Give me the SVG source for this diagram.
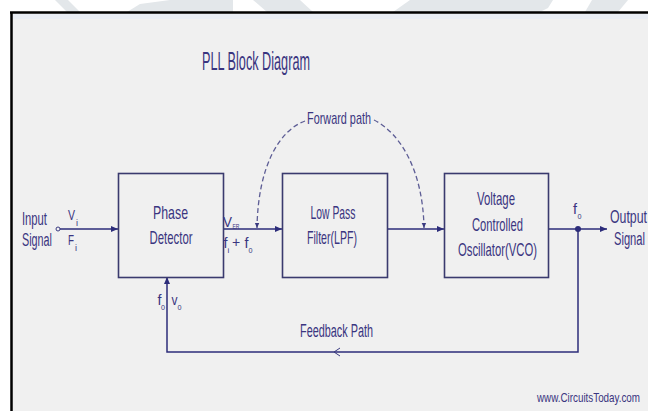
<svg xmlns="http://www.w3.org/2000/svg" width="648" height="411" viewBox="0 0 648 411">
<style>
.t{font-family:"Liberation Sans",Arial,sans-serif;fill:#3a3580;}
.box{fill:none;stroke:#3a3a6e;stroke-width:1.6;}
.ln{fill:none;stroke:#2c2c7a;stroke-width:1.5;}
.dash{fill:none;stroke:#5d5d95;stroke-width:1.3;stroke-dasharray:5 3;}
.wm{fill:#e3e7ea;}
</style>
<defs>
<marker id="arr" markerWidth="8" markerHeight="8" refX="7" refY="4" orient="auto" markerUnits="userSpaceOnUse">
<path d="M0,1 L7,4 L0,7 Z" fill="#2c2c7a"/>
</marker>
<marker id="arrs" markerWidth="6" markerHeight="6" refX="5" refY="3" orient="auto" markerUnits="userSpaceOnUse">
<path d="M0,0.8 L5,3 L0,5.2 Z" fill="#3a3a80"/>
</marker>
</defs>
<rect x="0" y="0" width="648" height="411" fill="#ffffff"/>
<g id="watermark">
<polygon class="wm" points="55,0 68,0 80,12 67,12"/>
<polygon class="wm" points="127,12 140,4 170,0 233,0 233,12"/>
<polygon class="wm" points="253,0 300,0 313,12 267,12"/>
<polygon class="wm" points="393,12 410,0 553,0 548,8 540,12"/>
<polygon class="wm" points="592,0 628,0 618,12 585,12"/>
</g>
<g id="frame">
<rect x="12" y="13" width="636" height="398" fill="#f0f0f0"/>
<rect x="13" y="14" width="635" height="5" fill="#e9edf4"/>
<line x1="10" y1="12.5" x2="648" y2="12.5" stroke="#000" stroke-width="2.5"/>
<line x1="11.5" y1="12" x2="11.5" y2="411" stroke="#000" stroke-width="2.5"/>
</g>
<text class="t" x="202" y="70" font-size="25" textLength="108" lengthAdjust="spacingAndGlyphs">PLL Block Diagram</text>

<g id="connectors">
<circle cx="58" cy="229" r="2" fill="none" stroke="#3a3a80" stroke-width="1"/>
<line class="ln" x1="60" y1="229" x2="118" y2="229" marker-end="url(#arr)"/>
<line class="ln" x1="223" y1="229" x2="282" y2="229" marker-end="url(#arr)"/>
<line class="ln" x1="387" y1="229" x2="444" y2="229" marker-end="url(#arr)"/>
<line class="ln" x1="548" y1="229" x2="607" y2="229" marker-end="url(#arr)"/>
<circle cx="578" cy="229" r="3" fill="#2c2c7a"/>
<polyline class="ln" points="578,229 578,352 167,352 167,277" marker-end="url(#arr)"/>
<path d="M340,348 L334,352 L340,356" fill="none" stroke="#3a3a80" stroke-width="1"/>
<path class="dash" d="M305,121 C280,130 258,165 257,228" marker-end="url(#arrs)"/>
<path class="dash" d="M374,120 C400,133 423,170 424,228" marker-end="url(#arrs)"/>
</g>

<g id="phase-detector">
<rect class="box" x="118.5" y="173.5" width="105" height="104"/>
<text class="t" x="170.5" y="219" font-size="19" text-anchor="middle" textLength="35" lengthAdjust="spacingAndGlyphs">Phase</text>
<text class="t" x="171" y="244" font-size="19" text-anchor="middle" textLength="43" lengthAdjust="spacingAndGlyphs">Detector</text>
</g>
<g id="lpf">
<rect class="box" x="282.5" y="173.5" width="105" height="104"/>
<text class="t" x="333" y="219" font-size="19" text-anchor="middle" textLength="45" lengthAdjust="spacingAndGlyphs">Low Pass</text>
<text class="t" x="332" y="244" font-size="19" text-anchor="middle" textLength="50" lengthAdjust="spacingAndGlyphs">Filter(LPF)</text>
</g>
<g id="vco">
<rect class="box" x="444.5" y="173.5" width="104" height="104"/>
<text class="t" x="496" y="205" font-size="19" text-anchor="middle" textLength="38" lengthAdjust="spacingAndGlyphs">Voltage</text>
<text class="t" x="497.5" y="231" font-size="19" text-anchor="middle" textLength="51" lengthAdjust="spacingAndGlyphs">Controlled</text>
<text class="t" x="497.5" y="256" font-size="19" text-anchor="middle" textLength="79" lengthAdjust="spacingAndGlyphs">Oscillator(VCO)</text>
</g>

<g id="labels">
<text class="t" x="22" y="225" font-size="18" textLength="25" lengthAdjust="spacingAndGlyphs">Input</text>
<text class="t" x="22" y="246" font-size="18" textLength="30" lengthAdjust="spacingAndGlyphs">Signal</text>
<text class="t" x="68" y="220" font-size="15" textLength="7" lengthAdjust="spacingAndGlyphs">V</text>
<text class="t" x="76" y="226" font-size="9">i</text>
<text class="t" x="68" y="245" font-size="15" textLength="6" lengthAdjust="spacingAndGlyphs">F</text>
<text class="t" x="75" y="251" font-size="9">i</text>
<text class="t" x="223" y="227" font-size="15" textLength="9" lengthAdjust="spacingAndGlyphs">V</text>
<text class="t" x="232.5" y="229" font-size="8" textLength="7" lengthAdjust="spacingAndGlyphs">ER</text>
<text class="t" x="223.5" y="248" font-size="15" textLength="4" lengthAdjust="spacingAndGlyphs">f</text>
<text class="t" x="227.5" y="253" font-size="8">i</text>
<text class="t" x="232" y="247" font-size="14">+</text>
<text class="t" x="244.5" y="248" font-size="15" textLength="4" lengthAdjust="spacingAndGlyphs">f</text>
<text class="t" x="248.5" y="253" font-size="8" textLength="4" lengthAdjust="spacingAndGlyphs">0</text>
<text class="t" x="573" y="214" font-size="15" textLength="4" lengthAdjust="spacingAndGlyphs">f</text>
<text class="t" x="577.5" y="219" font-size="8" textLength="4" lengthAdjust="spacingAndGlyphs">0</text>
<text class="t" x="610" y="223" font-size="18" textLength="37" lengthAdjust="spacingAndGlyphs">Output</text>
<text class="t" x="614" y="245" font-size="18" textLength="31" lengthAdjust="spacingAndGlyphs">Signal</text>
<text class="t" x="157.5" y="305" font-size="15" textLength="4" lengthAdjust="spacingAndGlyphs">f</text>
<text class="t" x="161" y="310" font-size="8" textLength="4" lengthAdjust="spacingAndGlyphs">0</text>
<text class="t" x="171.5" y="305" font-size="14" textLength="6" lengthAdjust="spacingAndGlyphs">v</text>
<text class="t" x="177.5" y="310" font-size="8" textLength="4" lengthAdjust="spacingAndGlyphs">0</text>
<text class="t" x="307" y="124" font-size="17" textLength="64" lengthAdjust="spacingAndGlyphs">Forward path</text>
<text class="t" x="300" y="337" font-size="18" textLength="73" lengthAdjust="spacingAndGlyphs">Feedback Path</text>
<text class="t" x="537" y="402" font-size="13" textLength="103" lengthAdjust="spacingAndGlyphs">www.CircuitsToday.com</text>
</g>
</svg>
